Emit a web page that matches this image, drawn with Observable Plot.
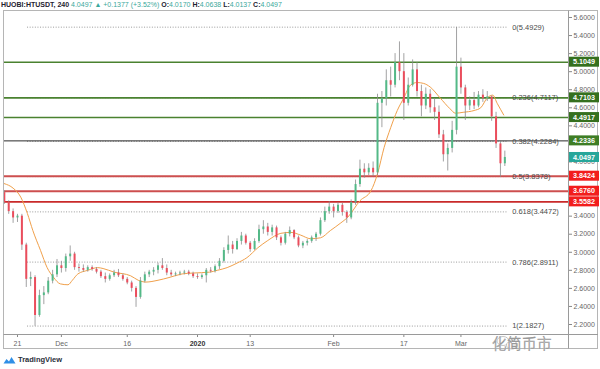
<!DOCTYPE html>
<html><head><meta charset="utf-8">
<script src="https://cdn.jsdelivr.net/npm/d3@7"></script>
<script src="https://cdn.jsdelivr.net/npm/@observablehq/plot@0.6"></script>
<style>
html,body{margin:0;padding:0;background:#fff;width:600px;height:369px;overflow:hidden;font-family:"Liberation Sans",Arial,sans-serif;}
#hdr{height:10px;font-size:7px;line-height:9px;white-space:nowrap;padding-left:1px;color:#3aa89b;}
#hdr b{color:#1e2230;}
#chart svg{display:block;overflow:visible;}
#ftr{height:19px;display:flex;align-items:center;padding-left:3px;font-size:7.5px;color:#2a2e39;font-weight:bold;}
#ftr svg{margin-right:2px;}
</style></head>
<body>
<div id="hdr"><b>HUOBI:HTUSDT, 240</b> 4.0497 ▲ +0.1377 (+3.52%) <b>O:</b>4.0170 <b>H:</b>4.0638 <b>L:</b>4.0137 <b>C:</b>4.0497</div>
<div id="chart"></div>
<div id="ftr"><svg width="13" height="8" viewBox="0 0 13 8"><path d="M0.5 7.5 L3.5 3 L6 5.5 L8.5 1 L12.5 7.5 Z" fill="#2f8fe6"/></svg>TradingView</div>
<script>
// ---- data (daily candles, HT/USDT) ----
const candleStart = "2019-11-18";
const opens = [3.66,3.55,3.45,3.38,3.40,3.08,2.70,2.72,2.30,2.52,2.55,2.68,2.75,2.85,2.82,2.95,2.98,2.83,2.82,2.80,2.83,2.81,2.78,2.73,2.70,2.74,2.77,2.74,2.70,2.66,2.60,2.50,2.68,2.75,2.78,2.80,2.85,2.82,2.77,2.75,2.76,2.77,2.78,2.76,2.73,2.72,2.74,2.80,2.79,2.84,2.90,3.02,3.08,3.03,3.12,3.18,3.10,3.03,3.12,3.25,3.28,3.22,3.27,3.16,3.10,3.20,3.24,3.16,3.07,3.10,3.12,3.16,3.20,3.35,3.45,3.50,3.45,3.52,3.44,3.38,3.55,3.75,3.92,3.88,3.93,3.88,4.65,4.70,4.90,4.85,5.10,5.00,4.65,4.85,5.02,4.78,4.62,4.75,4.60,4.55,4.30,4.08,4.15,4.35,5.05,4.82,4.62,4.68,4.62,4.74,4.70,4.72,4.50,4.20,3.98];
const highs = [3.68,3.57,3.48,3.42,3.42,3.10,2.78,2.74,2.58,2.62,2.72,2.80,2.92,2.90,2.98,3.07,3.00,2.87,2.86,2.85,2.85,2.83,2.80,2.77,2.76,2.80,2.81,2.76,2.72,2.68,2.62,2.72,2.78,2.80,2.83,2.88,2.93,2.86,2.80,2.78,2.79,2.80,2.80,2.78,2.76,2.76,2.82,2.83,2.86,2.93,3.05,3.18,3.12,3.15,3.22,3.20,3.12,3.15,3.30,3.35,3.32,3.30,3.29,3.18,3.22,3.28,3.25,3.18,3.12,3.14,3.18,3.22,3.38,3.50,3.56,3.53,3.55,3.54,3.46,3.58,3.80,4.02,3.98,3.98,4.00,4.75,4.78,5.02,5.05,5.20,5.33,5.20,4.93,5.13,5.10,4.85,4.82,4.80,4.70,4.62,4.35,4.20,4.45,5.49,5.15,4.85,4.72,4.77,4.78,4.80,4.78,4.73,4.55,4.22,4.12];
const lows = [3.53,3.42,3.32,3.33,3.02,2.61,2.62,2.18,2.28,2.42,2.53,2.65,2.72,2.77,2.78,2.90,2.80,2.78,2.78,2.78,2.79,2.76,2.71,2.66,2.68,2.72,2.72,2.68,2.64,2.56,2.39,2.48,2.66,2.72,2.74,2.76,2.80,2.74,2.73,2.73,2.74,2.75,2.74,2.71,2.70,2.70,2.66,2.77,2.77,2.81,2.88,2.98,2.98,3.02,3.08,3.08,3.00,3.02,3.10,3.20,3.18,3.18,3.13,3.07,3.08,3.17,3.14,3.05,3.04,3.07,3.10,3.12,3.18,3.33,3.42,3.38,3.43,3.40,3.32,3.36,3.52,3.72,3.82,3.85,3.84,3.85,4.38,4.62,4.72,4.82,4.90,4.46,4.62,4.83,4.72,4.50,4.58,4.54,4.46,4.26,4.00,3.90,4.10,4.30,4.75,4.46,4.57,4.58,4.60,4.66,4.67,4.45,4.15,3.83,3.95];
const closes = [3.55,3.45,3.38,3.40,3.08,2.70,2.72,2.30,2.52,2.55,2.68,2.75,2.85,2.82,2.95,2.98,2.83,2.82,2.80,2.83,2.81,2.78,2.73,2.70,2.74,2.77,2.74,2.70,2.66,2.60,2.50,2.68,2.75,2.78,2.80,2.85,2.82,2.77,2.75,2.76,2.77,2.78,2.76,2.73,2.72,2.74,2.80,2.79,2.84,2.90,3.02,3.08,3.03,3.12,3.18,3.10,3.03,3.12,3.25,3.28,3.22,3.27,3.16,3.10,3.20,3.24,3.16,3.07,3.10,3.12,3.16,3.20,3.35,3.45,3.50,3.45,3.52,3.44,3.38,3.55,3.75,3.92,3.88,3.93,3.88,4.65,4.70,4.90,4.85,5.10,5.00,4.65,4.85,5.02,4.78,4.62,4.75,4.60,4.55,4.30,4.08,4.15,4.35,5.05,4.82,4.62,4.68,4.62,4.74,4.70,4.72,4.50,4.20,3.98,4.05];

// moving average (orange)
const maDates = ["2019-11-18T00:00","2019-11-20T00:00","2019-11-21T18:00","2019-11-23T06:00","2019-11-24T12:00","2019-11-26T06:00","2019-11-27T18:00","2019-11-29T06:00","2019-11-30T18:00","2019-12-02T12:00","2019-12-03T12:00","2019-12-04T18:00","2019-12-07T00:00","2019-12-09T06:00","2019-12-10T12:00","2019-12-13T00:00","2019-12-16T18:00","2019-12-18T12:00","2019-12-20T06:00","2019-12-23T00:00","2019-12-25T12:00","2019-12-28T12:00","2019-12-31T00:00","2020-01-03T18:00","2020-01-05T12:00","2020-01-07T18:00","2020-01-10T00:00","2020-01-12T06:00","2020-01-14T18:00","2020-01-17T00:00","2020-01-20T00:00","2020-01-22T06:00","2020-01-24T12:00","2020-01-26T18:00","2020-01-29T00:00","2020-01-31T06:00","2020-02-02T12:00","2020-02-04T06:00","2020-02-07T00:00","2020-02-09T12:00","2020-02-11T00:00","2020-02-12T12:00","2020-02-14T00:00","2020-02-15T12:00","2020-02-17T00:00","2020-02-18T12:00","2020-02-20T00:00","2020-02-21T12:00","2020-02-23T00:00","2020-02-25T06:00","2020-02-27T12:00","2020-02-28T18:00","2020-03-01T12:00","2020-03-04T00:00","2020-03-05T12:00","2020-03-07T00:00","2020-03-08T06:00","2020-03-09T06:00","2020-03-10T18:00"];
const maValues = [3.76,3.71,3.61,3.43,3.24,3.02,2.83,2.72,2.65,2.64,2.69,2.76,2.80,2.83,2.82,2.78,2.74,2.69,2.67,2.69,2.72,2.76,2.77,2.78,2.80,2.83,2.88,2.94,3.05,3.13,3.21,3.22,3.19,3.15,3.16,3.24,3.32,3.39,3.57,3.68,3.87,4.16,4.38,4.57,4.71,4.85,4.88,4.87,4.83,4.71,4.59,4.54,4.55,4.57,4.60,4.71,4.74,4.65,4.52];

// Fibonacci retracement
const fibRatios = ["0","0.236","0.382","0.5","0.618","0.786","1"];
const fibValues = [5.4929,4.7117,4.2284,3.8378,3.4472,2.8911,2.1827];
const fibFrom = "2019-11-23T07:00", fibTo = "2020-03-11T18:00";

// horizontal levels
const greenLevels = [5.1049,4.7103,4.4917];
const blackLevels = [4.2336];
const redLevels = [3.8424,3.6760,3.5582];
const lastPrice = 4.0497;

// axes (ticks fully hidden behind the level boxes in the reference are left out)
const yTicks = [2.2,2.4,2.6,2.8,3.0,3.2,3.4,4.0,4.4,4.6,4.8,5.0,5.2,5.4,5.6];
const xTickDates = ["2019-11-21","2019-12-01","2019-12-16","2020-01-01","2020-01-13","2020-02-01","2020-02-17","2020-03-01"];
const xTickLabels = ["21","Dec","16","2020","13","Feb","17","Mar"];
const watermark = "化简币市";

// ---- build ----
const P = s => new Date(s.length <= 10 ? s + "T00:00:00Z" : s + ":00Z");
const start = P(candleStart);
const candles = closes.map((c, i) => ({date: d3.utcDay.offset(start, i), open: opens[i], high: highs[i], low: lows[i], close: c}));
const ma = maDates.map((d, i) => ({date: P(d), value: maValues[i]}));
const fib = fibValues.map((v, i) => ({value: v, label: `${fibRatios[i]}(${v.toFixed(4)})`}));
const xTicks = xTickDates.map(P);
const labelOf = new Map(xTickDates.map((d, i) => [+P(d), xTickLabels[i]]));

const UP = "#53b987", DOWN = "#eb4d5c", WICK = "#8a8a8c";
const font = "Liberation Sans, Arial, sans-serif";

const chart = Plot.plot({
  width: 600, height: 340,
  marginLeft: 3, marginRight: 32, marginTop: 1, marginBottom: 16,
  x: {type: "utc", domain: [P("2019-11-17T19:30"), P("2020-03-25T12:00")], axis: null},
  y: {domain: [2.0893, 5.6664], axis: null},
  style: {background: "transparent", fontFamily: font, fontSize: "7px", color: "#555", overflow: "visible"},
  marks: [
    Plot.ruleY(fib, {y: "value", x1: () => P(fibFrom), x2: () => P(fibTo), stroke: "#9a9a9a", strokeWidth: 1, strokeDasharray: "1,1.6"}),
    Plot.ruleY(greenLevels, {y: d => d, stroke: "#4a8230", strokeWidth: 1.6}),
    Plot.ruleY(blackLevels, {y: d => d, stroke: "#2a2a2a", strokeWidth: 1}),
    Plot.ruleY(redLevels.slice(0, 2), {y: d => d, stroke: "#cd4f4f", strokeWidth: 2}),
    Plot.ruleY(redLevels.slice(2), {y: d => d, stroke: "#c92a2a", strokeWidth: 1.6}),
    Plot.line(ma, {x: "date", y: "value", stroke: "#f0a04b", strokeWidth: 1, curve: "monotone-x"}),
    Plot.ruleX(candles, {x: "date", y1: "low", y2: "high", stroke: WICK, strokeWidth: 0.8}),
    Plot.ruleX(candles, {x: "date", y1: "open", y2: "close", stroke: d => d.close >= d.open ? UP : DOWN, strokeWidth: 2}),
    Plot.text(fib, {x: () => P(fibTo), y: "value", text: "label", textAnchor: "start", dx: 4, fill: "#4a4a4a", fontSize: 7.5}),
    Plot.axisY(yTicks, {anchor: "right", tickFormat: d3.format(".4f"), tickSize: 3, tickPadding: 2, fontSize: 7, fill: "#666", stroke: "#888"}),
    Plot.axisX(xTicks, {anchor: "bottom", tickFormat: d => labelOf.get(+d), tickSize: 3, tickPadding: 4, fontSize: 7, fill: "#666", stroke: "#888"})
  ]
});
document.getElementById("chart").appendChild(chart);

// frame, label boxes, watermark (positioned with Plot's scales)
const svg = d3.select(chart);
const sy = v => chart.scale("y").apply(v);
svg.selectAll("text").filter(function(){ return this.textContent === "2020"; }).attr("font-weight", "bold").attr("fill", "#333");
const g = svg.append("g");
g.append("rect").attr("x", 3.5).attr("y", 0.5).attr("width", 594).attr("height", 338).attr("fill", "none").attr("stroke", "#b5b5b5");
g.append("line").attr("x1", 568.5).attr("x2", 568.5).attr("y1", 0.5).attr("y2", 338.5).attr("stroke", "#9a9a9a");
g.append("line").attr("x1", 3.5).attr("x2", 598).attr("y1", 324.5).attr("y2", 324.5).attr("stroke", "#9a9a9a");
const boxes = [
  ...greenLevels.map(v => ({v, fill: "#35701f"})),
  ...blackLevels.map(v => ({v, fill: "#3e7d25"})),
  {v: lastPrice, fill: "#26a69a"},
  ...redLevels.map(v => ({v, fill: "#f21d1d"}))
];
for (const b of boxes) {
  const y = sy(b.v);
  g.append("rect").attr("x", 569).attr("y", y - 5).attr("width", 30).attr("height", 10).attr("fill", b.fill);
  g.append("text").attr("x", 584).attr("y", y).attr("dy", "0.35em").attr("text-anchor", "middle")
    .attr("fill", "#fff").attr("font-weight", "bold").attr("font-size", 7.2).attr("font-family", font).text(b.v.toFixed(4));
}
const wm = g.append("g");
wm.append("ellipse").attr("cx", 503).attr("cy", 331).attr("rx", 6).attr("ry", 4.5).attr("fill", "#fff").attr("stroke", "#aaa").attr("stroke-width", 0.7);
wm.append("ellipse").attr("cx", 512).attr("cy", 335).attr("rx", 5.5).attr("ry", 4).attr("fill", "#fff").attr("stroke", "#aaa").attr("stroke-width", 0.7);
wm.append("text").attr("x", 522).attr("y", 333).attr("dy", "0.38em").attr("font-size", 14.5)
  .attr("font-family", "Noto Sans CJK SC").attr("font-weight", 300).attr("letter-spacing", 0.5)
  .attr("fill", "#fff").attr("stroke", "#999").attr("stroke-width", 0.6).text(watermark);
</script>
</body></html>
